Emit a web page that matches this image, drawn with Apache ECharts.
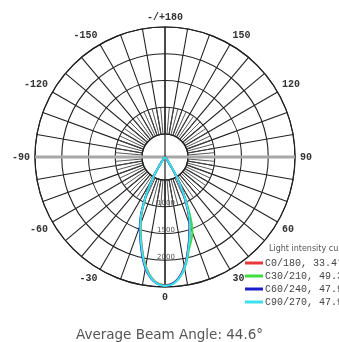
<!DOCTYPE html>
<html><head><meta charset="utf-8">
<script src="https://cdn.jsdelivr.net/npm/echarts@6/dist/echarts.min.js"></script>
<style>html,body{margin:0;padding:0;background:#fff}#c{width:339px;height:342px}</style>
</head><body><div id="c"></div>
<script>
// gamma angles (deg), 0 = straight down, negative = C180..C270 side
const angles = [-90,-85,-80,-75,-70,-65,-60,-55,-50,-45,-40,-35,-30,-25,-20,-15,-10,-5,0,5,10,15,20,25,30,35,40,45,50,55,60,65,70,75,80,85,90];
// luminous intensity (cd)
const c0_180  = [0,0,0,0,0,0,0,0,0, 3,18,105,450,930,1370,1740,2130,2390, 2465, 2395,2140,1745,1375,935,455,108,19,3, 0,0,0,0,0,0,0,0,0];
const c30_210 = [0,0,0,0,0,0,0,0,0, 4,20,110,460,940,1380,1750,2140,2395, 2470, 2405,2170,1810,1540,1000,490,118,24,5, 0,0,0,0,0,0,0,0,0];
const c60_240 = [0,0,0,0,0,0,0,0,0, 6,25,120,480,965,1415,1785,2170,2405, 2475, 2400,2150,1755,1385,945,470,115,22,4, 0,0,0,0,0,0,0,0,0];
const c90_270 = [0,0,0,0,0,0,0,0,0, 5,22,115,470,950,1390,1760,2150,2400, 2480, 2410,2160,1770,1400,960,480,120,25,5, 0,0,0,0,0,0,0,0,0];
const seriesNames = ['C0/180, 33.4°','C30/210, 49.3°','C60/240, 47.9°','C90/270, 47.9°'];
const seriesColors = ['#e8393a','#3fdc3f','#1c1cc8','#3ee0ea'];
// grid rings (cd) and angle tick labels
const ringValues = [500,1000,1500,2000,2500];
const angleTickValues = [0,30,60,90,120,150,180,210,240,270,300,330];
const angleTickLabels = ['0','30','60','90','120','150','-/+180','-150','-120','-90','-60','-30'];
// guide axes through the centre: [intensity, angle]
const guideVertical = [[2500,0],[2500,180]];
const guideHorizontal = [[2500,-90],[2500,90]];

const chart = echarts.init(document.getElementById('c'), null, {renderer:'canvas'});
const CX = 165, CY = 157;
const labelMap = {};
angleTickValues.forEach((v,i)=>{ labelMap[v] = angleTickLabels[i]; });
const allSeriesData = [c0_180, c30_210, c60_240, c90_270];

const curveSeries = allSeriesData.map((vals, k) => ({
  type: 'line', name: seriesNames[k], polarIndex: 2, coordinateSystem: 'polar',
  data: angles.map((a, i) => [vals[i], a]),
  showSymbol: false, smooth: 0.4, z: 5 + k,
  lineStyle: {color: seriesColors[k], width: 2}, itemStyle: {color: seriesColors[k]}
}));

const option = {
  backgroundColor: '#fff',
  animation: false,
  title: [
    {text: 'Average Beam Angle: 44.6°', left: 'center', top: 323,
     textStyle: {fontFamily: 'DejaVu Sans', fontSize: 13.5, fontWeight: 'normal', color: '#555'}},
    {text: 'Light intensity curve', left: 269, top: 245, padding: 0,
     textStyle: {fontFamily: 'DejaVu Sans', fontSize: 8, fontWeight: 'normal', color: '#555'}}
  ],
  legend: {
    orient: 'vertical', left: 245, top: 258, padding: 0, itemGap: 3,
    itemWidth: 18, itemHeight: 3, icon: 'rect',
    data: seriesNames,
    textStyle: {fontFamily: 'Liberation Mono', fontSize: 10, color: '#444', padding: [0,0,0,-3]}
  },
  polar: [
    {center: [CX, CY], radius: [23, 130]},
    {center: [CX, CY], radius: [23, 50]},
    {center: [CX, CY], radius: [0, 130]}
  ],
  angleAxis: [
    {polarIndex: 0, type: 'value', min: 0, max: 360, interval: 10, startAngle: 270, clockwise: false,
     axisLine: {show: true, lineStyle: {color: '#222', width: 1.2}},
     axisTick: {show: false},
     splitLine: {show: true, lineStyle: {color: '#222', width: 1.1}},
     axisLabel: {show: true, margin: 5, fontFamily: 'Liberation Mono', fontWeight: 'bold', fontSize: 10, color: '#333',
       formatter: v => (labelMap[v] !== undefined ? labelMap[v] : '')}},
    {polarIndex: 1, type: 'value', min: 0, max: 360, interval: 5, startAngle: 270, clockwise: false,
     axisLine: {show: false}, axisTick: {show: false}, axisLabel: {show: false},
     splitLine: {show: true, lineStyle: {color: '#444', width: 0.9}}},
    {polarIndex: 2, type: 'value', min: -180, max: 180, startAngle: 90, clockwise: false, show: false}
  ],
  radiusAxis: [
    {polarIndex: 0, type: 'value', min: ringValues[0], max: ringValues[ringValues.length-1], interval: ringValues[1]-ringValues[0],
     axisLine: {show: false}, axisTick: {show: false},
     splitLine: {show: true, lineStyle: {color: '#222', width: 1.1}},
     axisLabel: {show: true, margin: 1, align: 'center', verticalAlign: 'bottom', showMinLabel: false, showMaxLabel: false,
       fontFamily: 'DejaVu Sans', fontSize: 7, color: '#555', formatter: v => String(v)}},
    {polarIndex: 1, type: 'value', show: false},
    {polarIndex: 2, type: 'value', min: 0, max: 2500, show: false}
  ],
  series: [
    {type: 'line', name: 'guideH', coordinateSystem: 'polar', polarIndex: 2, data: guideHorizontal,
     showSymbol: false, silent: true, z: 3, lineStyle: {color: '#a8a8a8', width: 3}},
    {type: 'line', name: 'guideV', coordinateSystem: 'polar', polarIndex: 2, data: guideVertical,
     showSymbol: false, silent: true, z: 4, lineStyle: {color: '#222', width: 1.2}}
  ].concat(curveSeries)
};
chart.setOption(option);
</script></body></html>
